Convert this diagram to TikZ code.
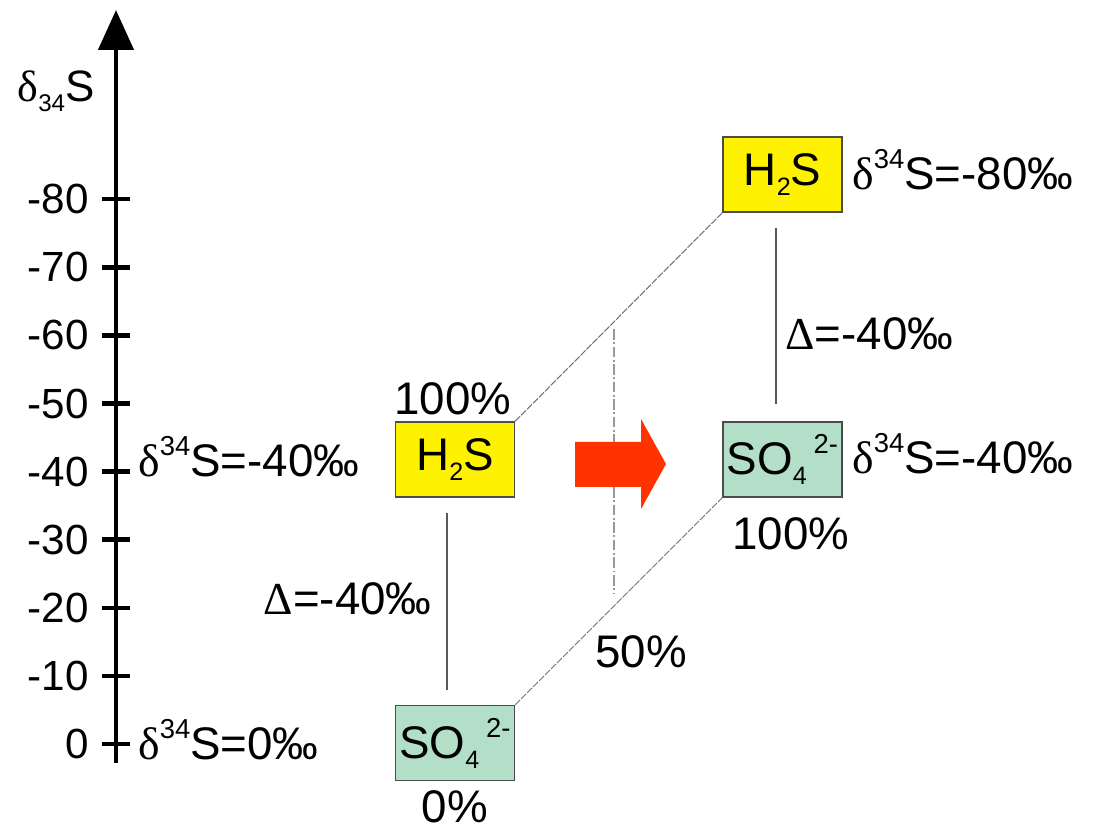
\documentclass[tikz,border=0pt]{standalone}
\usepackage{graphicx}
\usepackage{fontspec}
\setmainfont{Liberation Sans}
\newfontfamily\grk{Liberation Serif}
\usetikzlibrary{arrows.meta}
\definecolor{sulfide}{HTML}{FFF200}
\definecolor{sulfate}{HTML}{B3DEC8}
\definecolor{flow}{HTML}{FF3300}
\newcommand{\upix}[1]{\raisebox{0.46em}{\scalebox{0.6}{#1}}}
\newcommand{\dnix}[1]{\raisebox{-0.22em}{\scalebox{0.55}{#1}}}
\newcommand{\dS}{{\grk δ}\upix{34}S}
\newcommand{\hts}{H\dnix{2}S}
\newcommand{\sfat}{SO\dnix{4}\hspace{0.15em}\upix{2-}}
\begin{document}
\begin{tikzpicture}[
  axisline/.style={line width=2.6pt, black},
  boxH/.style={draw=black!70, line width=0.8pt, fill=sulfide, minimum width=2.38cm,
    minimum height=1.5cm, inner sep=0pt, font=\fontsize{26}{30}\selectfont},
  boxS/.style={boxH, fill=sulfate},
  tlab/.style={inner sep=0pt, font=\fontsize{24}{28}\selectfont},
  plab/.style={inner sep=0pt, anchor=base, font=\fontsize{26}{30}\selectfont},
  dlab/.style={inner sep=0pt, anchor=base west, font=\fontsize{26}{30}\selectfont},
  link/.style={black!55, line width=0.6pt, dash pattern=on 4pt off 0.8pt},
  gap/.style={black!65, line width=0.6pt},
  mix/.style={black!40, line width=0.8pt, dash pattern=on 6pt off 1.5pt on 1pt off 1.5pt}]
  \useasboundingbox (0,0) rectangle (21.9,16.6);
  % Axis
  \coordinate (axbot) at (2.32,1.34);
  \coordinate (axtop) at (2.32,16.4);
  \draw[axisline, -{Triangle[width=0.7cm,length=0.8cm]}] (axbot) -- (axtop);
  \node[tlab, anchor=base, font=\fontsize{25}{29}\selectfont] (axname) at (1.12,14.56) {{\grk δ}\dnix{34}S};
  \foreach \k/\v in {0/0,1/-10,2/-20,3/-30,4/-40,5/-50,6/-60,7/-70,8/-80} {
    \pgfmathsetmacro\yy{1.72+1.362*\k}
    \draw[axisline] (2.04,\yy) -- (2.6,\yy);
    \node[tlab, anchor=east] (tick\k) at (1.78,\yy) {\v};
  }
  % Start
  \node[boxH] (h2sA) at (9.1,7.41) {\hts};
  \node[boxS] (so4A) at (9.1,1.74) {\sfat};
  \node[plab] (pctA) at (9.06,8.3) {100\%};
  \node[plab] (pctB) at (9.1,0.15) {0\%};
  \node[dlab] (dA) at (2.76,7.06) {\dS=-40‰};
  \node[dlab] (dB) at (2.76,1.4) {\dS=0‰};
  \node[plab, anchor=base east] (gapA) at (8.64,4.3) {{\grk Δ}=-40‰};
  \draw[gap, shorten <=0.3cm, shorten >=0.3cm] ([xshift=-0.16cm]h2sA.south) -- ([xshift=-0.16cm]so4A.north);
  % After
  \node[boxH] (h2sB) at (15.65,13.11) {\hts};
  \node[boxS] (so4B) at (15.65,7.41) {\sfat};
  \node[plab] (pctC) at (15.82,5.6) {100\%};
  \node[dlab] (dC) at (17.04,12.8) {\dS=-80‰};
  \node[dlab] (dD) at (17.04,7.12) {\dS=-40‰};
  \node[plab, anchor=base west] (gapB) at (15.7,9.6) {{\grk Δ}=-40‰};
  \draw[gap, shorten <=0.3cm, shorten >=0.34cm] ([xshift=-0.13cm]h2sB.south) -- ([xshift=-0.13cm]so4B.north);
  % Mixing
  \draw[link] (h2sA.north east) -- (h2sB.south west);
  \draw[link] (so4A.north east) -- (so4B.south west);
  \coordinate (mixtop) at (12.28,10.02);
  \coordinate (mixbot) at (12.28,4.74);
  \draw[mix] (mixtop) -- (mixbot);
  \node[plab] (pctD) at (12.82,3.24) {50\%};
  % Arrow
  \fill[flow] (11.5,7.76) -- (12.82,7.76) -- (12.82,8.22) -- (13.32,7.32)
    -- (12.82,6.42) -- (12.82,6.86) -- (11.5,6.86) -- cycle;
\end{tikzpicture}
\end{document}
